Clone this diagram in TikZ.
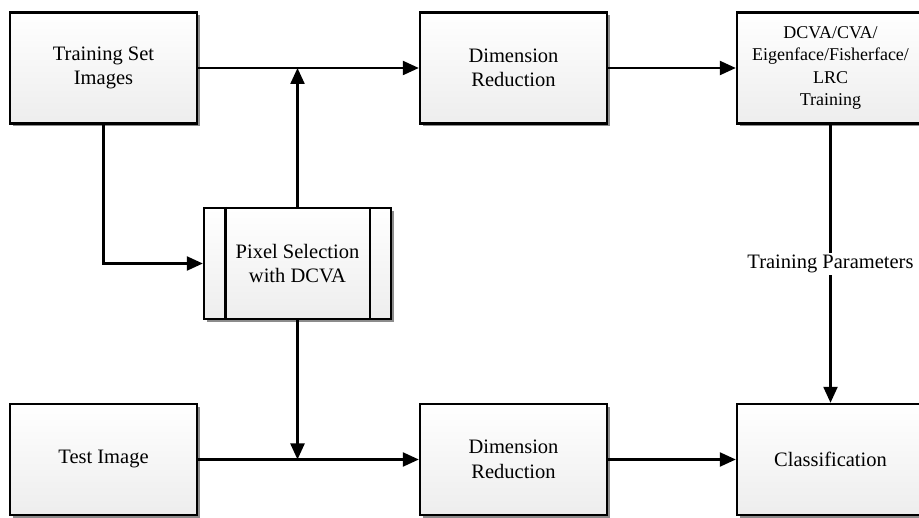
\documentclass[tikz,border=0pt]{standalone}
\usepackage{fontspec}
\setmainfont{Liberation Serif}
\usetikzlibrary{arrows.meta,shadows,calc}
\begin{document}
\begin{tikzpicture}[x=1pt,y=-1pt,
  box/.style={draw=black, line width=2.4pt, top color=white, bottom color=black!7,
    minimum width=187pt, minimum height=111pt, inner sep=0pt, align=center,
    font=\fontsize{20.5}{24.5}\selectfont,
    drop shadow={shadow xshift=3pt, shadow yshift=-3pt, fill=black!45, opacity=1}},
  conn/.style={line width=2.3pt, -{Triangle[length=16pt,width=14pt]}},
  lbl/.style={fill=white, inner sep=2pt, font=\fontsize{20.5}{24.5}\selectfont}]
\useasboundingbox (0,0) rectangle (919,518);
\clip (0,0) rectangle (919,518);
\node[box] (tr) at (103.5,68) {Training Set\\Images};
\node[box] (dr1) at (513.5,68) {Dimension\\Reduction};
\node[box, font=\fontsize{18}{22.3}\selectfont] (dc) at (830.5,68) {DCVA/CVA/\\Eigenface/Fisherface/\\LRC\\Training};
\node[box] (px) at (297.5,263.5) {Pixel Selection\\with DCVA};
\node[box] (te) at (103.5,459.5) {Test Image};
\node[box] (dr2) at (513.5,459.5) {Dimension\\Reduction};
\node[box] (cl) at (830.5,459.5) {Classification};
\draw[line width=2.4pt] ([xshift=22.5pt]px.north west) -- ([xshift=22.5pt]px.south west);
\draw[line width=2.4pt] ([xshift=-22.5pt]px.north east) -- ([xshift=-22.5pt]px.south east);
\draw[conn] (tr.east) -- (dr1.west);
\draw[conn] (px.north) -- (px.north |- tr.east);
\draw[conn] (tr.south) |- (px.west);
\draw[conn] (px.south) -- (px.south |- te.east);
\draw[conn] (te.east) -- (dr2.west);
\draw[conn] (dr1.east) -- (dc.west);
\draw[conn] (dr2.east) -- (cl.west);
\draw[conn] (dc.south) -- node[lbl] (tp) {Training Parameters} (cl.north);
\end{tikzpicture}
\end{document}
